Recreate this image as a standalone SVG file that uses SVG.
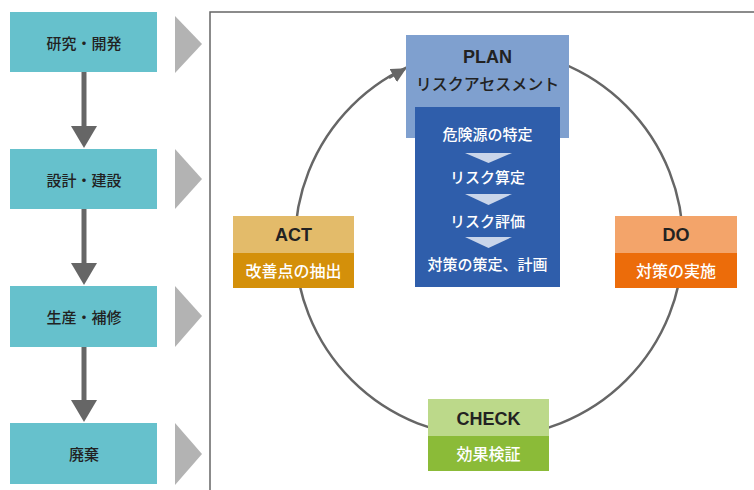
<svg xmlns="http://www.w3.org/2000/svg" width="754" height="490" viewBox="0 0 754 490">
<defs>
<style>
.stage{fill:#66c1cc}
.chev{fill:#b3b3b3}
.lbl{font-family:"Noto Sans CJK JP","Noto Sans",sans-serif;font-size:15px;font-weight:500;fill:#222;text-anchor:middle;dominant-baseline:central}
.en{font-family:"Liberation Sans",Arial,sans-serif;font-size:18px;font-weight:bold;fill:#222;text-anchor:middle;dominant-baseline:central}
.jp{font-family:"Noto Sans CJK JP","Noto Sans",sans-serif;font-size:16px;font-weight:500;fill:#fff;text-anchor:middle;dominant-baseline:central}
.jpd{font-family:"Noto Sans CJK JP","Noto Sans",sans-serif;font-size:16px;font-weight:500;fill:#222;text-anchor:middle;dominant-baseline:central}
.st{font-family:"Noto Sans CJK JP","Noto Sans",sans-serif;font-size:15px;font-weight:500;fill:#fff;text-anchor:middle;dominant-baseline:central}
.down{fill:#c9d5ea}
</style>
<marker id="ah" viewBox="0 0 10 10" refX="9" refY="5" markerWidth="6" markerHeight="6" markerUnits="strokeWidth" orient="auto">
<path d="M0,0 L10,5 L0,10 z" fill="#666"/>
</marker>
</defs>
<rect width="754" height="490" fill="#fff"/>
<g id="frame"><path d="M210,490 V12 H754" fill="none" stroke="#666" stroke-width="1.5"/></g>
<g id="connectors">
<line x1="84" y1="72" x2="84" y2="128" stroke="#666" stroke-width="5"/>
<path d="M71,126 H97 L84,148 z" fill="#666"/>
<line x1="84" y1="209" x2="84" y2="265" stroke="#666" stroke-width="5"/>
<path d="M71,263 H97 L84,285 z" fill="#666"/>
<line x1="84" y1="347" x2="84" y2="402" stroke="#666" stroke-width="5"/>
<path d="M71,400 H97 L84,422 z" fill="#666"/>
<circle cx="489" cy="243" r="194" fill="none" stroke="#666" stroke-width="2.5"/>
<path d="M389,78 L405,69" fill="none" stroke="#666" stroke-width="2.5" marker-end="url(#ah)"/>
</g>
<g id="stage1"><rect class="stage" x="10" y="12" width="147" height="60"/><text class="lbl" x="84" y="42">研究・開発</text><path class="chev" d="M175,16 L202,44 L175,73 z"/></g>
<g id="stage2"><rect class="stage" x="10" y="149" width="147" height="60"/><text class="lbl" x="84" y="179">設計・建設</text><path class="chev" d="M175,149 L202,179 L175,209 z"/></g>
<g id="stage3"><rect class="stage" x="10" y="286" width="147" height="61"/><text class="lbl" x="84" y="316">生産・補修</text><path class="chev" d="M175,286 L202,316 L175,347 z"/></g>
<g id="stage4"><rect class="stage" x="10" y="423" width="147" height="61"/><text class="lbl" x="84" y="453">廃棄</text><path class="chev" d="M175,423 L202,454 L175,485 z"/></g>
<g id="plan">
<rect x="406" y="35" width="163" height="103" fill="#7fa0cf"/>
<text class="en" x="487.5" y="57">PLAN</text>
<text class="jpd" x="487.5" y="83">リスクアセスメント</text>
<rect x="415" y="107" width="145" height="180" fill="#2f5eab"/>
<text class="st" x="487.5" y="133">危険源の特定</text>
<path class="down" d="M465,153 H512 L488.5,163 z"/>
<text class="st" x="487.5" y="176">リスク算定</text>
<path class="down" d="M465,194 H512 L488.5,205 z"/>
<text class="st" x="487.5" y="220">リスク評価</text>
<path class="down" d="M465,237 H512 L488.5,248 z"/>
<text class="st" x="487.5" y="263">対策の策定、計画</text>
</g>
<g id="act">
<rect x="233" y="216" width="121" height="37" fill="#e3bb6a"/>
<rect x="233" y="253" width="121" height="35" fill="#d4900a"/>
<text class="en" x="293.5" y="235">ACT</text>
<text class="jp" x="293.5" y="270">改善点の抽出</text>
</g>
<g id="do">
<rect x="615" y="216" width="122" height="37" fill="#f3a46a"/>
<rect x="615" y="253" width="122" height="35" fill="#ec6c0a"/>
<text class="en" x="676" y="235">DO</text>
<text class="jp" x="676" y="270">対策の実施</text>
</g>
<g id="check">
<rect x="428" y="399" width="121" height="37" fill="#bcd98a"/>
<rect x="428" y="436" width="121" height="35" fill="#8bbb38"/>
<text class="en" x="488.5" y="419">CHECK</text>
<text class="jp" x="488.5" y="453">効果検証</text>
</g>
</svg>
